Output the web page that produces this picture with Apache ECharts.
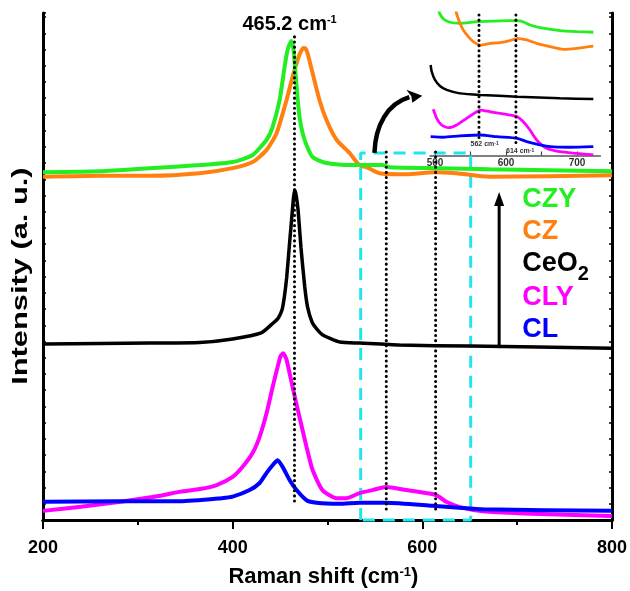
<!DOCTYPE html>
<html>
<head>
<meta charset="utf-8">
<script src="https://cdn.jsdelivr.net/npm/echarts@6/dist/echarts.min.js"></script>
<style>
  html, body { margin: 0; padding: 0; background: #fff; }
  #chart { width: 630px; height: 591px; }
</style>
</head>
<body>
<div id="chart"></div>
<script>
// Raman spectra of CeO2-based samples, stacked with vertical offsets (a. u.)
const FONT = '"Liberation Sans", Arial, sans-serif';

const xTickLabels = [200, 400, 600, 800];
const insetTickLabels = [500, 600, 700];

// [Raman shift (cm-1), intensity (a. u., offset)]
const czy = [[200,68.6],[260,68.8],[312.6,69.4],[365.3,70.0],[400,70.6],[421,72.0],[435.8,75.0],[442.1,77.5],[449.5,82.8],[454.7,89.3],[457.9,92.7],[461.8,94.5],[464.2,92.7],[467.1,86.2],[470.5,79.5],[475.8,75.0],[484.2,71.6],[498.9,70.4],[523.2,70.0],[557.9,70.0],[565.3,69.6],[617.9,69.4],[670.5,69.2],[800,68.8]];
const cz = [[200,67.7],[260,67.9],[312.6,67.9],[365.3,68.4],[400,69.4],[421,70.6],[435.8,73.0],[446.3,76.3],[456.8,82.8],[463.2,87.4],[468.4,90.7],[471.6,92.3],[474.7,93.1],[476.8,93.0],[478.9,92.1],[484.2,88.2],[491.6,82.8],[498.9,78.9],[509.5,75.0],[523.2,72.4],[533.7,70.0],[541.1,69.6],[554.7,68.4],[583.2,68.2],[612.6,68.6],[635.8,68.4],[670.5,67.7],[800,68.0]];
const ceo2 = [[200,34.7],[260,34.8],[313,34.9],[365,35.0],[400,35.7],[430,36.9],[443,38.9],[448,39.8],[452,41.4],[454.5,44.0],[457,47.9],[460,54.6],[463,61.1],[464.3,63.8],[465.5,65.1],[467,64.0],[469,61.1],[472,53.8],[476,46.0],[479,42.0],[484,38.9],[489.5,37.5],[495,36.5],[513,35.1],[534,34.9],[576,34.5],[650,34.3],[800,33.9]];
const cly = [[200,1.8],[240,2.6],[282,3.6],[303,4.2],[324,4.8],[345,5.6],[365.3,6.1],[383.2,6.9],[400,8.5],[410.5,10.5],[421,13.2],[428.4,16.4],[435.8,21.1],[442.1,26.2],[447.4,30.2],[450.5,32.3],[453.2,32.9],[456.8,31.6],[463.2,26.2],[470.5,20.3],[477.9,14.4],[484.2,9.9],[494.7,5.9],[509.5,4.3],[520,4.3],[533.7,5.3],[547.4,5.9],[562.1,6.5],[583.2,5.9],[604.2,5.3],[614.7,4.9],[625.3,3.6],[638.9,2.6],[664.2,1.7],[706.3,1.3],[800,0.8]];
const cl = [[200,3.6],[282,3.7],[345,3.7],[388.4,4.3],[400,4.6],[417.9,5.9],[428.4,7.3],[435.8,9.3],[442.1,10.8],[447.4,11.8],[452.6,10.5],[460,7.9],[467.4,5.9],[477.9,3.9],[488.4,3.4],[512.6,3.2],[533.7,3.4],[562.1,3.4],[610.5,2.8],[638.9,2.4],[664.2,2.1],[800,1.8]];

// Enlarged 490-730 cm-1 region (inset), rescaled intensities
const insetCzy = [[504,103],[507,99.3],[512,95.8],[521,93.5],[535,92.8],[559,93.9],[582,94.3],[606,94.6],[620,94.4],[634,91.6],[652,89.3],[676,87.6],[700,86.9],[723,86.5]];
const insetCz = [[529,103],[530.6,99.3],[535.2,92.8],[539.9,88.1],[546.9,83.4],[554,79.9],[564.4,77.5],[577.5,78.7],[591.5,79.2],[605.6,80.6],[615.9,82.2],[629.2,81.1],[643.2,78.7],[662,76.4],[680.7,74.5],[699.6,75.2],[723,76.8]];
const insetCeo2 = [[493.9,63.5],[495.4,58.8],[500,53],[507,48.8],[516.5,46],[535.2,43.6],[564.4,42.5],[615.9,41.3],[676,40.1],[723,39.6]];
const insetCly = [[497.6,32.4],[502.4,26.1],[509.4,21.4],[518.7,19.5],[530.6,21.4],[544.6,26.1],[558.7,30.7],[564.4,31.9],[577.5,30.7],[591.5,29.6],[605.6,28.4],[615.9,27.2],[624.4,23.7],[633.8,17.9],[643.2,10.9],[657.3,5.1],[676,2.7],[699.6,1.5],[723,0.4]];
const insetCl = [[493.9,13.2],[511.7,12.8],[535.2,13.7],[564.4,14.4],[586.9,13.2],[615.9,12.1],[629.2,9.7],[643.2,7.9],[662,6.2],[690.1,5.8],[723,6.2]];

// Band positions marked with dotted lines
const f2gBand = 465.2;
const defectBands = [562, 614];
// Zoomed window outlined on the main plot
const zoomBox = { x0: 535, x1: 651, y0: 0, y1: 72.4 };

const COLORS = { czy: '#22ee22', cz: '#ff8010', ceo2: '#000000', cly: '#ff00ff', cl: '#0000ff', box: '#22e4ef' };

const chart = echarts.init(document.getElementById('chart'), null, { renderer: 'canvas' });

function curve(name, data, color, width, xi, yi) {
  return {
    name, type: 'line', data, xAxisIndex: xi, yAxisIndex: yi,
    symbol: 'none', smooth: 0.2, silent: true, animation: false,
    lineStyle: { color, width }
  };
}
function dotted(x, yTop, yBottom, xi, yi) {
  return {
    type: 'line', data: [[x, yTop], [x, yBottom]], xAxisIndex: xi, yAxisIndex: yi,
    symbol: 'none', silent: true, animation: false, z: 5,
    lineStyle: { color: '#000', width: 3, type: [0.1, 5], cap: 'round' }
  };
}

const axisBlack = { lineStyle: { color: '#000', width: 3 } };

chart.setOption({
  backgroundColor: '#fff',
  animation: false,
  grid: [
    { left: 43, top: 13, width: 570, height: 507 },
    { left: 430, top: 13, width: 170.4, height: 142.5 },
    { left: 435, top: 13, width: 142, height: 142.5 }
  ],
  xAxis: [
    {
      gridIndex: 0, type: 'value', min: 200, max: 800, interval: 200, position: 'bottom',
      axisLine: axisBlack,
      axisTick: { inside: false, length: 9, lineStyle: { color: '#000', width: 2 } },
      minorTick: { show: true, splitNumber: 2, length: 5, lineStyle: { color: '#000', width: 2 } },
      splitLine: { show: false },
      axisLabel: {
        margin: 19, fontSize: 18, fontWeight: 'bold', color: '#000', fontFamily: FONT,
        formatter: v => (xTickLabels.includes(v) ? String(v) : '')
      }
    },
    {
      gridIndex: 0, type: 'value', min: 200, max: 800, interval: 100, position: 'top',
      axisLine: axisBlack,
      axisTick: { inside: true, length: 4, lineStyle: { color: '#000', width: 2 } },
      axisLabel: { show: false }, splitLine: { show: false }
    },
    {
      gridIndex: 1, type: 'value', min: 493, max: 733, position: 'bottom',
      axisLine: { lineStyle: { color: '#555', width: 1.5 } },
      axisTick: { show: false }, axisLabel: { show: false }, splitLine: { show: false }
    },
    {
      gridIndex: 2, type: 'value', min: 500, max: 700, interval: 50, position: 'bottom',
      axisLine: { show: false },
      axisTick: { inside: true, length: 4, lineStyle: { color: '#444', width: 1.2 } },
      splitLine: { show: false },
      axisLabel: {
        margin: 3, fontSize: 10, fontWeight: 'bold', color: '#333', fontFamily: FONT,
        formatter: v => (insetTickLabels.includes(v) ? String(v) : '')
      }
    }
  ],
  yAxis: [
    {
      gridIndex: 0, type: 'value', min: 0, max: 100, interval: 3.2, position: 'left',
      axisLine: axisBlack,
      axisTick: { inside: true, length: 3, lineStyle: { color: '#000', width: 1.5 } },
      axisLabel: { show: false }, splitLine: { show: false }
    },
    {
      gridIndex: 0, type: 'value', min: 0, max: 100, interval: 3.2, position: 'right',
      axisLine: axisBlack,
      axisTick: { inside: true, length: 3, lineStyle: { color: '#000', width: 1.5 } },
      axisLabel: { show: false }, splitLine: { show: false }
    },
    { gridIndex: 1, type: 'value', min: 0, max: 100, show: false },
    { gridIndex: 2, type: 'value', min: 0, max: 100, show: false }
  ],
  series: [
    {
      type: 'line', xAxisIndex: 0, yAxisIndex: 0, symbol: 'none', silent: true, clip: false, z: 1,
      data: [[zoomBox.x0, zoomBox.y0], [zoomBox.x0, zoomBox.y1], [zoomBox.x1, zoomBox.y1], [zoomBox.x1, zoomBox.y0], [zoomBox.x0, zoomBox.y0]],
      lineStyle: { color: COLORS.box, width: 3, type: [12, 8] }
    },
    curve('CeO2', ceo2, COLORS.ceo2, 3.5, 0, 0),
    curve('CLY', cly, COLORS.cly, 4, 0, 0),
    curve('CL', cl, COLORS.cl, 4, 0, 0),
    curve('CZ', cz, COLORS.cz, 4, 0, 0),
    curve('CZY', czy, COLORS.czy, 4, 0, 0),
    dotted(f2gBand, 95.3, 3.6, 0, 0),
    dotted(defectBands[0], 72.6, 1.4, 0, 0),
    dotted(defectBands[1], 72.6, 1.4, 0, 0),
    curve('CZY inset', insetCzy, COLORS.czy, 2.8, 2, 2),
    curve('CZ inset', insetCz, COLORS.cz, 2.8, 2, 2),
    curve('CeO2 inset', insetCeo2, COLORS.ceo2, 2.5, 2, 2),
    curve('CLY inset', insetCly, COLORS.cly, 2.8, 2, 2),
    curve('CL inset', insetCl, COLORS.cl, 2.8, 2, 2),
    dotted(defectBands[0], 98.6, 12.3, 2, 2),
    dotted(defectBands[1], 98.6, 6.7, 2, 2)
  ]
});

// Annotations placed through the axis scales
const P = (x, y) => chart.convertToPixel({ xAxisIndex: 0, yAxisIndex: 0 }, [x, y]);
const Q = (x, y) => chart.convertToPixel({ xAxisIndex: 2, yAxisIndex: 2 }, [x, y]);

function supText(pos, main, sup, size, supSize, color, extra) {
  return Object.assign({
    type: 'text', x: pos[0], y: pos[1], z: 100, silent: true,
    style: {
      text: '{a|' + main + '}{u|' + sup + '}' + (extra ? '{a|' + extra + '}' : ''),
      align: 'center', verticalAlign: 'middle',
      rich: {
        a: { fontSize: size, fontWeight: 'bold', fontFamily: FONT, fill: color, lineHeight: Math.round(size * 1.2), verticalAlign: 'top' },
        u: { fontSize: supSize, fontWeight: 'bold', fontFamily: FONT, fill: color, lineHeight: Math.round(supSize * 1.1), verticalAlign: 'top' }
      }
    }
  });
}

const g = [];

// peak position label
g.push(supText(P(460, 97.3), '465.2 cm', '-1', 20, 11, '#000'));

// inset band labels
g.push(supText(Q(570, 7.4), '562 cm', '-1', 7, 5, '#333'));
g.push(supText(Q(620, 2.5), '614 cm', '-1', 7, 5, '#333'));

// curved arrow from zoom box to inset
const a0 = P(549.5, 72.4), a1 = P(550.5, 77.9), a2 = P(563.2, 82.1), a3 = P(586.3, 83.4);
g.push({ type: 'bezierCurve', z: 100, silent: true,
  shape: { x1: a0[0], y1: a0[1], cpx1: a1[0], cpy1: a1[1], cpx2: a2[0], cpy2: a2[1], x2: a3[0], y2: a3[1] },
  style: { stroke: '#000', lineWidth: 4.5, fill: null } });
const tip = P(600, 83.7);
g.push({ type: 'polygon', z: 100, silent: true,
  shape: { points: [[tip[0], tip[1]], [tip[0] - 16, tip[1] - 6], [tip[0] - 11, tip[1] + 0.5], [tip[0] - 10, tip[1] + 7]] },
  style: { fill: '#000' } });

// vertical offset arrow
const vb = P(681, 33.9), vt = P(681, 64.7);
g.push({ type: 'line', z: 100, silent: true,
  shape: { x1: vb[0], y1: vb[1], x2: vt[0], y2: vt[1] + 12 },
  style: { stroke: '#000', lineWidth: 3 } });
g.push({ type: 'polygon', z: 100, silent: true,
  shape: { points: [[vt[0], vt[1]], [vt[0] - 5, vt[1] + 14], [vt[0] + 5, vt[1] + 14]] },
  style: { fill: '#000' } });

// sample labels
const legendX = 705.3;
const legend = [
  { y: 63.2, color: COLORS.czy, text: '{a|CZY}' },
  { y: 56.8, color: COLORS.cz, text: '{a|CZ}' },
  { y: 50.5, color: COLORS.ceo2, text: '{a|CeO}{s|2}' },
  { y: 43.8, color: COLORS.cly, text: '{a|CLY}' },
  { y: 37.5, color: COLORS.cl, text: '{a|CL}' }
];
legend.forEach(item => {
  const p = P(legendX, item.y);
  g.push({ type: 'text', x: p[0], y: p[1] - 14, z: 100, silent: true,
    style: {
      text: item.text, align: 'left', verticalAlign: 'top',
      rich: {
        a: { fontSize: 27, fontWeight: 'bold', fontFamily: FONT, fill: item.color, lineHeight: 28, verticalAlign: 'top' },
        s: { fontSize: 20, fontWeight: 'bold', fontFamily: FONT, fill: item.color, lineHeight: 20, padding: [15, 0, 0, 0], verticalAlign: 'top' }
      }
    } });
});

// axis titles
const xt = P(495.7, 0);
g.push(supText([xt[0], xt[1] + 59], 'Raman shift (cm', '-1', 22, 13, '#000', ')'));
const yt = P(200, 48.1);
g.push({ type: 'text', x: yt[0] - 22, y: yt[1], z: 100, silent: true, rotation: Math.PI / 2, scaleX: 1.4,
  style: { text: 'Intensity (a. u.)', align: 'center', verticalAlign: 'middle',
    fontSize: 22, fontWeight: 'bold', fontFamily: FONT, fill: '#000' } });

chart.setOption({ graphic: { elements: g } });
</script>
</body>
</html>
